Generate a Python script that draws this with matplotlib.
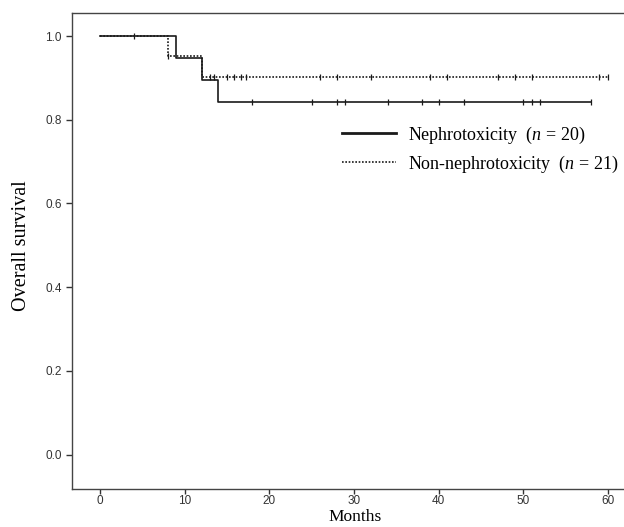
import numpy as np
import matplotlib
matplotlib.use("Agg")
import matplotlib.pyplot as plt

plt.rcParams["mathtext.fontset"] = "custom"
plt.rcParams["mathtext.it"] = "Liberation Serif:italic"
plt.rcParams["mathtext.rm"] = "Liberation Serif"

# Kaplan-Meier steps (time in months, survival after the step)
neph_t = [0, 9, 12, 14, 58]
neph_s = [1.0, 0.947, 0.895, 0.842, 0.842]
neph_cens = [4, 18, 25, 28, 29, 34, 38, 40, 43, 50, 51, 52, 58]

non_t = [0, 8, 12, 60]
non_s = [1.0, 0.952, 0.902, 0.902]
non_cens = [8, 13, 13.5, 15, 15.8, 16.7, 17.3, 26, 28, 32, 39, 41, 47, 49, 51, 59, 60]

labels = ["Nephrotoxicity  ($n$ = 20)", "Non-nephrotoxicity  ($n$ = 21)"]
yticks = [0.0, 0.2, 0.4, 0.6, 0.8, 1.0]
xticks = [0, 10, 20, 30, 40, 50, 60]


def level_at(t_steps, s_steps, times):
    idx = np.searchsorted(t_steps, times, side="right") - 1
    return np.array(s_steps)[idx]


fig = plt.figure(figsize=(6.24, 5.27), dpi=100)
ax = fig.add_axes([0.1154, 0.0721, 0.8846, 0.9032])

col = "#1a1a1a"
ax.step(neph_t, neph_s, where="post", color=col, lw=1.2, label=labels[0])
ax.plot(neph_cens, level_at(neph_t, neph_s, neph_cens), ls="none",
        marker="|", ms=5, mew=0.9, color=col)

ax.step(non_t, non_s, where="post", color=col, lw=1.2, ls=(0, (1, 1)),
        label=labels[1])
ax.plot(non_cens, level_at(non_t, non_s, non_cens), ls="none",
        marker="|", ms=5, mew=0.9, color=col)

ax.set_xlim(-3.3, 61.9)
ax.set_ylim(-0.082, 1.055)
ax.set_xticks(xticks)
ax.set_yticks(yticks)
ax.set_yticklabels([f"{v:.1f}" for v in yticks])
ax.tick_params(direction="out", length=4, width=1, color="#333333",
               labelsize=8.5, labelcolor="#333333")
ax.tick_params(axis="x", length=3.5, pad=1)
for lbl in ax.get_xticklabels() + ax.get_yticklabels():
    lbl.set_fontfamily("Liberation Sans")

for side in ["left", "bottom", "top"]:
    ax.spines[side].set_color("#444444")
    ax.spines[side].set_linewidth(1.0)
ax.spines["right"].set_visible(False)

ax.set_xlabel("Months", family="Liberation Serif", fontsize=12.5)
ax.xaxis.set_label_coords(0.513, -0.043)
ax.set_ylabel("Overall survival", family="Liberation Serif", fontsize=14.5)
ax.yaxis.set_label_coords(-0.075, 0.512)

leg = ax.legend(loc="upper left", bbox_to_anchor=(0.46, 0.80), frameon=False,
                handlelength=3.0, handletextpad=0.65, labelspacing=0.45,
                prop={"family": "Liberation Serif", "size": 13})
leg.get_lines()[0].set_linewidth(2.0)

fig.savefig("out.png", dpi=100)
